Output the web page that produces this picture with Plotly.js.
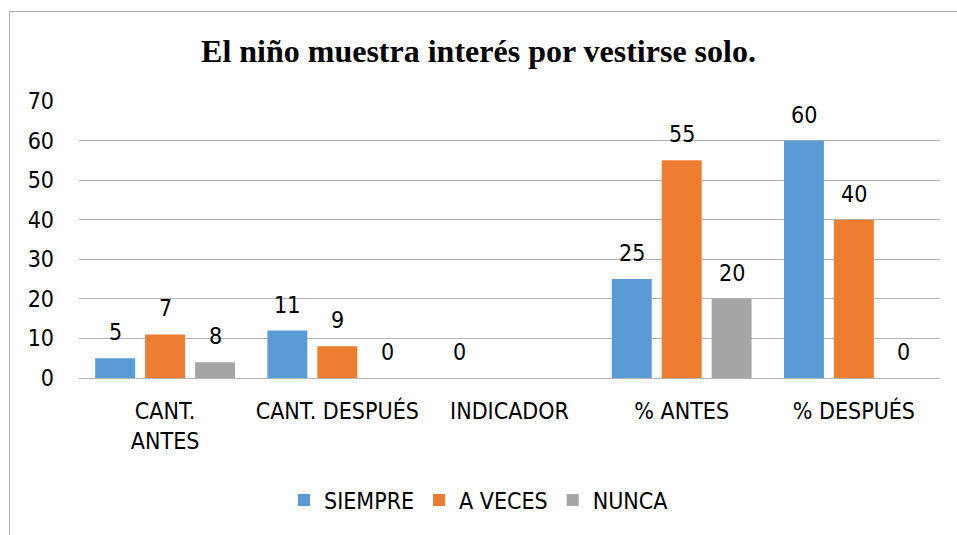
<!DOCTYPE html>
<html>
<head>
<meta charset="utf-8">
<script src="https://cdn.plot.ly/plotly-3.0.1.min.js"></script>
<style>
  html, body { margin: 0; padding: 0; background: #ffffff; overflow: hidden; }
  #wrap { position: relative; width: 957px; height: 535px; }
  #frame { position: absolute; left: 9px; top: 11px; width: 1000px; height: 600px; border: 1px solid #b4b4b4; box-sizing: border-box; pointer-events: none; }
  #chart { position: absolute; left: 0; top: 0; width: 957px; height: 535px; }
</style>
</head>
<body>
<div id="wrap">
  <div id="chart"></div>
  <div id="frame"></div>
</div>
<script>
// ---- data ----
const categories = ["CANT.<br>ANTES", "CANT. DESPUÉS", "INDICADOR", "% ANTES", "% DESPUÉS"];
const seriesNames = ["SIEMPRE", "A VECES", "NUNCA"];
const siempreValues = [5, 12, 0, 25, 60];
const aVecesValues = [11, 8, null, 55, 40];
const nuncaValues = [4, 0, null, 20, 0];
const siempreLabels = ["5", "11", "0", "25", "60"];
const aVecesLabels = ["7", "9", "", "55", "40"];
const nuncaLabels = ["8", "0", "", "20", "0"];
const yTicks = [0, 10, 20, 30, 40, 50, 60, 70];

// ---- styles ----
const colors = ["#5B9BD5", "#ED7D31", "#A5A5A5"];
const font = "'DejaVu Sans Condensed', 'Roboto', sans-serif";
const fs = 23;
const W = 957, H = 535;
const margin = {l: 79, r: 17, t: 101, b: 157, pad: 0};
const bargap = 0.13, bargroupgap = 0.2;

const values = [siempreValues, aVecesValues, nuncaValues];
const labels = [siempreLabels, aVecesLabels, nuncaLabels];

const traces = seriesNames.map((name, i) => ({
  type: "bar",
  name: name,
  x: categories,
  y: values[i],
  marker: {color: colors[i]},
  hoverinfo: "skip"
}));

// slot width in px for each bar within a group
const plotW = W - margin.l - margin.r;
const slotPx = (plotW / categories.length) * (1 - bargap) / seriesNames.length;

const annotations = [];
labels.forEach((arr, i) => {
  arr.forEach((txt, j) => {
    if (txt === "") return;
    const v = values[i][j] == null ? 0 : values[i][j];
    annotations.push({
      x: categories[j], y: v, xref: "x", yref: "y",
      text: txt, showarrow: false,
      xshift: (i - 1) * slotPx, yshift: 26,
      xanchor: "center", yanchor: "middle",
      font: {family: font, size: fs, color: "#000000"}
    });
  });
});

const layout = {
  width: W, height: H,
  margin: margin,
  paper_bgcolor: "#ffffff",
  plot_bgcolor: "#ffffff",
  barmode: "group",
  bargap: bargap,
  bargroupgap: bargroupgap,
  title: {
    text: "<b>El niño muestra interés por vestirse solo.</b>",
    font: {family: "'Liberation Serif', 'Times New Roman', serif", size: 32, color: "#000000"},
    x: 0.5, xanchor: "center", xref: "container",
    y: 1 - 51 / H, yanchor: "middle", yref: "container"
  },
  xaxis: {
    type: "category",
    showgrid: false,
    showline: true, linecolor: "#b4b4b4", linewidth: 1,
    ticks: "",
    ticklabelstandoff: 12,
    tickfont: {family: font, size: fs, color: "#000000"},
    fixedrange: true
  },
  yaxis: {
    range: [0, 70],
    tickvals: yTicks,
    showgrid: true, gridcolor: "#b4b4b4", gridwidth: 1,
    zeroline: false,
    showline: false,
    ticks: "",
    ticklabelstandoff: 24,
    tickfont: {family: font, size: fs, color: "#000000"},
    fixedrange: true
  },
  legend: {
    orientation: "h",
    x: 0.5, xanchor: "center", xref: "container",
    y: 1 - 500 / H, yanchor: "middle", yref: "container",
    font: {family: font, size: fs, color: "#000000"},
    itemclick: false, itemdoubleclick: false
  },
  annotations: annotations,
  showlegend: true
};

Plotly.newPlot("chart", traces, layout, {displayModeBar: false, staticPlot: true});
</script>
</body>
</html>
